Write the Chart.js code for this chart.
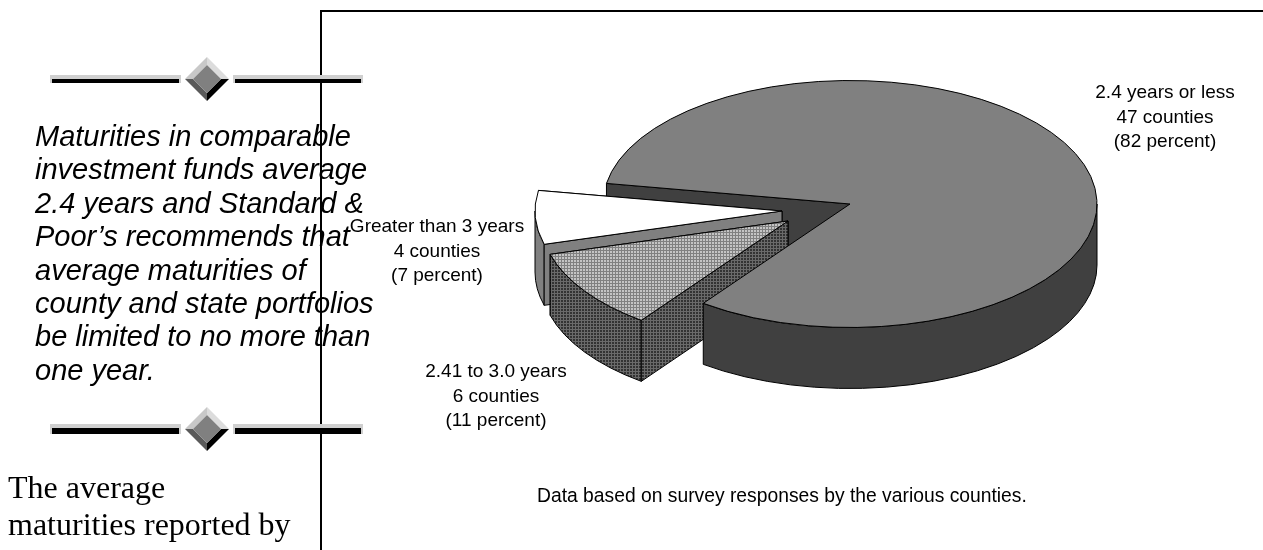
<!DOCTYPE html>
<html>
<head>
<meta charset="utf-8">
<title>Average maturities by county</title>
<script src="https://cdn.jsdelivr.net/npm/chart.js@4"></script>
<style>
  html, body { margin: 0; padding: 0; background: #fff; overflow: hidden; }
  canvas { display: block; }
</style>
</head>
<body>
<canvas id="pieChart" width="1263" height="550"></canvas>
<script>
// counties per maturity band
const categories = ["2.4 years or less", "2.41 to 3.0 years", "Greater than 3 years"];
const countyCounts = [47, 6, 4];
const percentLabels = ["(82 percent)", "(11 percent)", "(7 percent)"];
const countyLabels = ["47 counties", "6 counties", "4 counties"];

const noteText = "Data based on survey responses by the various counties.";
const pullQuote = [
    "Maturities in comparable",
    "investment funds average",
    "2.4 years and Standard &",
    "Poor\u2019s recommends that",
    "average maturities of",
    "county and state portfolios",
    "be limited to no more than",
    "one year."
];
const bodyLines = ["The average", "maturities reported by"];

// pie geometry on the page
const CX = 850, CY = 204, RADIUS = 247, SQUASH = 0.5, DEPTH = 61;
const labelSpots = [[1165, 98], [496, 377], [437, 232]];
const pullOut = [[0, 0], [-62, 17], [-68, 7]];

// small halftone tile, kept at page scale even though the pie is squashed
function halftone(ctx, base, line) {
    const tile = document.createElement("canvas");
    tile.width = 3;
    tile.height = 3;
    const t = tile.getContext("2d");
    t.fillStyle = base;
    t.fillRect(0, 0, 3, 3);
    t.fillStyle = line;
    t.fillRect(2, 0, 1, 3);
    t.fillRect(0, 2, 3, 1);
    const pattern = ctx.createPattern(tile, "repeat");
    return pattern;
}

const canvas = document.getElementById("pieChart");
const ctx2d = canvas.getContext("2d");
const topLight = halftone(ctx2d, "#c4c4c4", "#808080");
topLight.setTransform(new DOMMatrix().scale(1, 1 / SQUASH));
const wallDark = halftone(ctx2d, "#333333", "#6a6a6a");
const topColors = ["#808080", topLight, "#ffffff"];
const wallColors = ["#404040", wallDark, "#808080"];

function squash(ctx, shift) {
    ctx.translate(CX + shift[0], CY + shift[1]);
    ctx.scale(1, SQUASH);
    ctx.translate(-CX, -CY);
}

function outline(ctx, fill) {
    if (fill) {
        ctx.fillStyle = fill;
        ctx.fill();
    }
    ctx.strokeStyle = "#000";
    ctx.lineWidth = 1;
    ctx.lineJoin = "round";
    ctx.stroke();
}

// flat cut side of a slice, running from the tip out to the rim at one angle
function cutFace(ctx, arc, angle, shift, fill) {
    const ex = CX + Math.cos(angle) * arc.outerRadius;
    const ey = CY + Math.sin(angle) * arc.outerRadius;
    const down = DEPTH / SQUASH;
    ctx.save();
    squash(ctx, shift);
    ctx.beginPath();
    ctx.moveTo(CX, CY);
    ctx.lineTo(ex, ey);
    ctx.lineTo(ex, ey + down);
    ctx.lineTo(CX, CY + down);
    ctx.closePath();
    ctx.restore();
    outline(ctx, fill);
}

// curved rim, only the stretch that faces the viewer
function rimWall(ctx, arc, shift, fill) {
    const down = DEPTH / SQUASH;
    for (let k = 0; k < 2; k++) {
        const lo = Math.max(arc.startAngle, k * 2 * Math.PI);
        const hi = Math.min(arc.endAngle, k * 2 * Math.PI + Math.PI);
        if (hi <= lo) continue;
        ctx.save();
        squash(ctx, shift);
        ctx.beginPath();
        ctx.arc(CX, CY, arc.outerRadius, lo, hi);
        ctx.arc(CX, CY + down, arc.outerRadius, hi, lo, true);
        ctx.closePath();
        ctx.restore();
        outline(ctx, fill);
    }
}

function sliceTop(ctx, arc, shift) {
    ctx.save();
    squash(ctx, shift);
    arc.draw(ctx);
    ctx.beginPath();
    ctx.moveTo(CX, CY);
    ctx.arc(CX, CY, arc.outerRadius, arc.startAngle, arc.endAngle);
    ctx.closePath();
    ctx.restore();
    outline(ctx, null);
}

function ornament(ctx, y, barH) {
    const top = y - barH / 2;
    [[50, 181], [233, 363]].forEach(function (bar) {
        ctx.fillStyle = "#d0d0d0";
        ctx.fillRect(bar[0], top, bar[1] - bar[0], barH);
        ctx.fillStyle = "#000";
        ctx.fillRect(bar[0] + 2, top + 4, bar[1] - bar[0] - 4, barH - 4);
    });
    const x = 207, r = 22, q = 14;
    const faces = [
        ["#c8c8c8", [x - r, y], [x, y - r], [x, y - q], [x - q, y]],
        ["#dcdcdc", [x, y - r], [x + r, y], [x + q, y], [x, y - q]],
        ["#000000", [x + r, y], [x, y + r], [x, y + q], [x + q, y]],
        ["#5a5a5a", [x, y + r], [x - r, y], [x - q, y], [x, y + q]]
    ];
    faces.forEach(function (f) {
        ctx.fillStyle = f[0];
        ctx.beginPath();
        ctx.moveTo(f[1][0], f[1][1]);
        ctx.lineTo(f[2][0], f[2][1]);
        ctx.lineTo(f[3][0], f[3][1]);
        ctx.lineTo(f[4][0], f[4][1]);
        ctx.closePath();
        ctx.fill();
    });
    ctx.fillStyle = "#808080";
    ctx.beginPath();
    ctx.moveTo(x - q, y);
    ctx.lineTo(x, y - q);
    ctx.lineTo(x + q, y);
    ctx.lineTo(x, y + q);
    ctx.closePath();
    ctx.fill();
}

// page furniture behind the chart: frame, rules, side column
const pagePlugin = {
    id: "page",
    beforeDraw(chart) {
        const ctx = chart.ctx;
        ctx.save();
        ctx.fillStyle = "#000";
        ctx.fillRect(320, 10, 943, 2);
        ctx.fillRect(320, 10, 2, 540);
        ornament(ctx, 79, 8);
        ornament(ctx, 429, 10);
        ctx.fillStyle = "#000";
        ctx.textBaseline = "alphabetic";
        ctx.textAlign = "left";
        ctx.font = "italic 29px 'Liberation Sans'";
        pullQuote.forEach(function (line, i) {
            ctx.fillText(line, 35, 146 + i * 33.4);
        });
        ctx.font = "32px 'Liberation Serif'";
        bodyLines.forEach(function (line, i) {
            ctx.fillText(line, 8, 498 + i * 37);
        });
        ctx.restore();
    }
};

// extruded pie: back faces first, pulled slices next, big slice's front last
const extrudePlugin = {
    id: "extrude",
    beforeDatasetDraw(chart, args) {
        const ctx = chart.ctx;
        const arcs = args.meta.data;
        const big = arcs[0], mid = arcs[1], small = arcs[2];
        cutFace(ctx, big, big.startAngle, pullOut[0], wallColors[0]);

        cutFace(ctx, small, small.endAngle, pullOut[2], wallColors[2]);
        rimWall(ctx, small, pullOut[2], wallColors[2]);
        cutFace(ctx, small, small.startAngle, pullOut[2], wallColors[2]);
        sliceTop(ctx, small, pullOut[2]);

        cutFace(ctx, mid, mid.endAngle, pullOut[1], wallColors[1]);
        rimWall(ctx, mid, pullOut[1], wallColors[1]);
        cutFace(ctx, mid, mid.startAngle, pullOut[1], wallColors[1]);
        sliceTop(ctx, mid, pullOut[1]);

        rimWall(ctx, big, pullOut[0], wallColors[0]);
        sliceTop(ctx, big, pullOut[0]);
        return false;
    },
    afterDraw(chart) {
        const ctx = chart.ctx;
        ctx.save();
        ctx.fillStyle = "#000";
        ctx.textAlign = "center";
        ctx.textBaseline = "alphabetic";
        ctx.font = "19px 'Liberation Sans'";
        categories.forEach(function (name, i) {
            const spot = labelSpots[i];
            ctx.fillText(name, spot[0], spot[1]);
            ctx.fillText(countyLabels[i], spot[0], spot[1] + 24.5);
            ctx.fillText(percentLabels[i], spot[0], spot[1] + 49);
        });
        ctx.textAlign = "left";
        ctx.font = "19.3px 'Liberation Sans'";
        ctx.fillText(noteText, 537, 502);
        ctx.restore();
    }
};

new Chart(ctx2d, {
    type: "pie",
    data: {
        labels: categories,
        datasets: [{
            data: countyCounts,
            backgroundColor: topColors,
            borderWidth: 0
        }]
    },
    options: {
        responsive: false,
        animation: false,
        events: [],
        rotation: 279.6,
        radius: RADIUS,
        layout: { padding: { left: 2 * CX - 1263, bottom: 550 - 2 * CY } },
        plugins: {
            legend: { display: false },
            tooltip: { enabled: false }
        }
    },
    plugins: [pagePlugin, extrudePlugin]
});
</script>
</body>
</html>
